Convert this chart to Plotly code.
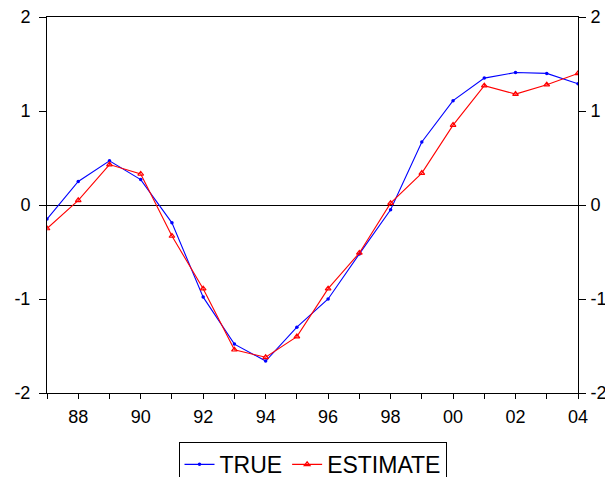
import plotly.graph_objects as go

years = list(range(1987, 2005))
true_vals = [-0.15, 0.25, 0.47, 0.27, -0.19, -0.98, -1.48, -1.66, -1.30, -1.00,
             -0.52, -0.05, 0.67, 1.11, 1.35, 1.41, 1.40, 1.29]
estimate_vals = [-0.25, 0.05, 0.43, 0.33, -0.33, -0.89, -1.54, -1.62, -1.40, -0.89,
                 -0.51, 0.02, 0.34, 0.85, 1.27, 1.18, 1.28, 1.40]
x_tick_labels = ["" if y % 2 else f"{y % 100:02d}" for y in years]
y_ticks = [-2, -1, 0, 1, 2]
y_tick_labels = ["-2", "-1", "0", "1", "2"]

fig = go.Figure()
fig.add_trace(go.Scatter(x=years, y=true_vals, name="TRUE", mode="lines+markers",
                         line=dict(color="#0000FF", width=1.1),
                         marker=dict(symbol="circle", size=3.5, color="#0000FF")))
fig.add_trace(go.Scatter(x=years, y=estimate_vals, name="ESTIMATE", mode="lines+markers",
                         line=dict(color="#FF0000", width=1.1),
                         marker=dict(symbol="triangle-up-open", size=5, color="#FF0000",
                                     line=dict(width=1.2, color="#FF0000"))))
# invisible trace for right axis
fig.add_trace(go.Scatter(x=years, y=true_vals, yaxis="y2", showlegend=False,
                         hoverinfo="skip", mode="lines", line=dict(width=0), opacity=0))

font = dict(family="Liberation Sans, Arial, sans-serif", size=18, color="black")
legend_font = dict(family="Liberation Sans, Arial, sans-serif", size=23, color="black")
fig.update_layout(
    width=605, height=530,
    margin=dict(l=47, r=27, t=17, b=137),
    paper_bgcolor="white", plot_bgcolor="white",
    font=font,
    xaxis=dict(range=[1987, 2004], tickvals=years, ticktext=x_tick_labels,
               ticks="outside", ticklen=5, tickcolor="black", tickwidth=1,
               showgrid=False, zeroline=False, showline=True, linecolor="black",
               linewidth=1, mirror=True, tickfont=font, automargin=False,
               ticklabeloverflow="allow", ticklabelstandoff=2),
    yaxis=dict(range=[-2, 2], tickvals=y_ticks, ticktext=y_tick_labels,
               ticks="outside", ticklen=7, ticklabelstandoff=5,
               tickcolor="black", showgrid=False, zeroline=True, zerolinecolor="black",
               zerolinewidth=1, showline=True, linecolor="black", linewidth=1,
               mirror=True, tickfont=font, automargin=False, ticklabeloverflow="allow"),
    yaxis2=dict(range=[-2, 2], tickvals=y_ticks, ticktext=y_tick_labels,
                overlaying="y", side="right",
                ticks="outside", ticklen=7, ticklabelstandoff=1,
                tickcolor="black", showgrid=False,
                zeroline=False, showline=False, tickfont=font, automargin=False,
                ticklabeloverflow="allow"),
    legend=dict(orientation="h", x=0.5, xanchor="center", y=-0.13, yanchor="top",
                bordercolor="black", borderwidth=1, bgcolor="white",
                font=legend_font, itemwidth=30, tracegroupgap=0),
    showlegend=True,
)
fig.write_html("out.html", config={"displayModeBar": False},
               post_script="document.body.style.margin='0';document.body.style.overflow='hidden';")
